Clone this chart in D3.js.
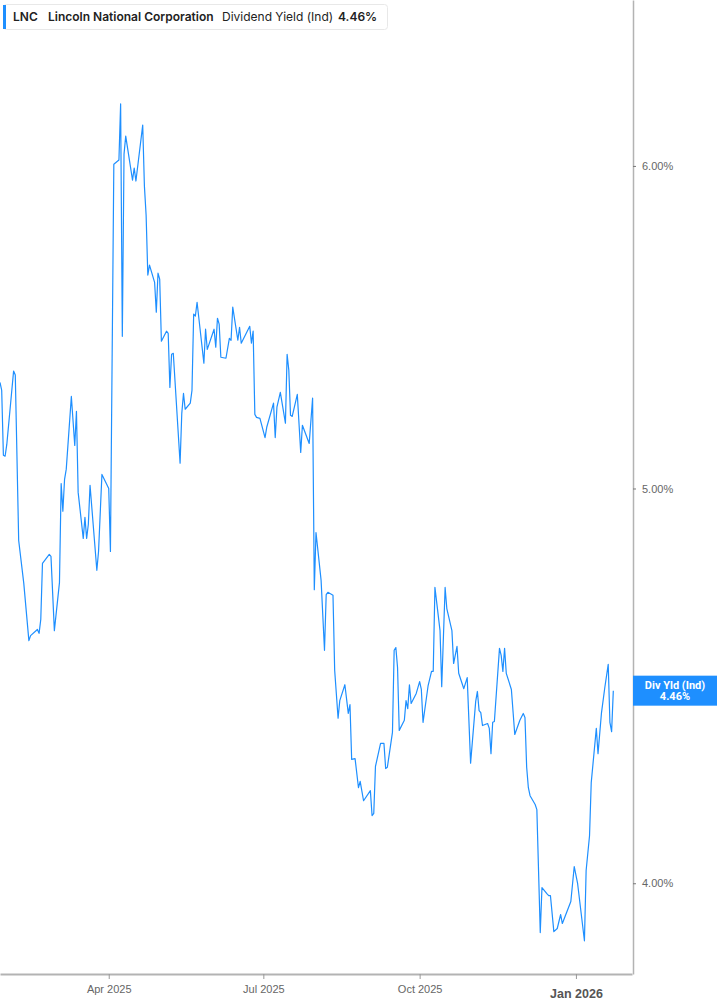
<!DOCTYPE html>
<html>
<head>
<meta charset="utf-8">
<script src="https://cdn.jsdelivr.net/npm/d3@7"></script>
<style>
  body { margin: 0; background: #fff; }
  svg { display: block; font-family: Roboto, "Liberation Sans", sans-serif; }
</style>
</head>
<body>
<svg id="chart" width="717" height="1005"></svg>
<script>
// Lincoln National (LNC) - indicated dividend yield
const dates = [
  '2025-01-27', '2025-01-28', '2025-01-29', '2025-01-30', '2025-01-31',
  '2025-02-04', '2025-02-05', '2025-02-07', '2025-02-10', '2025-02-13', '2025-02-14', '2025-02-18', '2025-02-19', '2025-02-20', '2025-02-21', '2025-02-25', '2025-02-26', '2025-02-28',
  '2025-03-03', '2025-03-04', '2025-03-05', '2025-03-06', '2025-03-07', '2025-03-10', '2025-03-12', '2025-03-13', '2025-03-14', '2025-03-17', '2025-03-18', '2025-03-19', '2025-03-20', '2025-03-21', '2025-03-25', '2025-03-26', '2025-03-28',
  '2025-04-01', '2025-04-02', '2025-04-04', '2025-04-07', '2025-04-08', '2025-04-09', '2025-04-10', '2025-04-11', '2025-04-15', '2025-04-16', '2025-04-17', '2025-04-21', '2025-04-22', '2025-04-23', '2025-04-24', '2025-04-25', '2025-04-28', '2025-04-29', '2025-04-30',
  '2025-05-01', '2025-05-02', '2025-05-05', '2025-05-06', '2025-05-07', '2025-05-08', '2025-05-09', '2025-05-13', '2025-05-14', '2025-05-15', '2025-05-16', '2025-05-19', '2025-05-20', '2025-05-21', '2025-05-22', '2025-05-23', '2025-05-27', '2025-05-28', '2025-05-29',
  '2025-06-02', '2025-06-03', '2025-06-04', '2025-06-05', '2025-06-06', '2025-06-09', '2025-06-11', '2025-06-12', '2025-06-13', '2025-06-16', '2025-06-17', '2025-06-18', '2025-06-23', '2025-06-24', '2025-06-25', '2025-06-26', '2025-06-27', '2025-06-29',
  '2025-07-02', '2025-07-03', '2025-07-07', '2025-07-08', '2025-07-09', '2025-07-11', '2025-07-14', '2025-07-15', '2025-07-16', '2025-07-17', '2025-07-18', '2025-07-21', '2025-07-23', '2025-07-24', '2025-07-28', '2025-07-30', '2025-07-31',
  '2025-08-01', '2025-08-04', '2025-08-06', '2025-08-07', '2025-08-08', '2025-08-11', '2025-08-12', '2025-08-14', '2025-08-15', '2025-08-18', '2025-08-20', '2025-08-21', '2025-08-22', '2025-08-24', '2025-08-26', '2025-08-27', '2025-08-29',
  '2025-09-02', '2025-09-03', '2025-09-04', '2025-09-05', '2025-09-08', '2025-09-10', '2025-09-11', '2025-09-12', '2025-09-15', '2025-09-16', '2025-09-17', '2025-09-18', '2025-09-19', '2025-09-22', '2025-09-23', '2025-09-24', '2025-09-25', '2025-09-26', '2025-09-29',
  '2025-10-01', '2025-10-02', '2025-10-03', '2025-10-06', '2025-10-08', '2025-10-09', '2025-10-10', '2025-10-13', '2025-10-14', '2025-10-16', '2025-10-17', '2025-10-20', '2025-10-21', '2025-10-23', '2025-10-24', '2025-10-27', '2025-10-29', '2025-10-31',
  '2025-11-03', '2025-11-04', '2025-11-05', '2025-11-06', '2025-11-07', '2025-11-10', '2025-11-11', '2025-11-12', '2025-11-13', '2025-11-14', '2025-11-17', '2025-11-18', '2025-11-19', '2025-11-20', '2025-11-21', '2025-11-24', '2025-11-26', '2025-11-29',
  '2025-12-01', '2025-12-02', '2025-12-03', '2025-12-04', '2025-12-05', '2025-12-08', '2025-12-09', '2025-12-11', '2025-12-12', '2025-12-15', '2025-12-16', '2025-12-17', '2025-12-19', '2025-12-21', '2025-12-23', '2025-12-24', '2025-12-29', '2025-12-31',
  '2026-01-02', '2026-01-06', '2026-01-07', '2026-01-09', '2026-01-10', '2026-01-13', '2026-01-14', '2026-01-16', '2026-01-18', '2026-01-20', '2026-01-21', '2026-01-22', '2026-01-23'
]

const yields = [
  5.309, 5.285, 5.095, 5.092, 5.126,
  5.343, 5.331, 4.855, 4.739, 4.588, 4.601, 4.617, 4.607, 4.643, 4.793, 4.817, 4.812, 4.614,
  4.741, 5.014, 4.936, 5.026, 5.055, 5.267, 5.123, 5.223, 4.989, 4.861, 4.919, 4.861, 4.900, 5.009, 4.774, 4.825, 5.040,
  5.000, 4.825, 6.006, 6.020, 6.214, 5.449, 6.040, 6.102, 5.952, 5.993, 5.949, 6.140, 5.932, 5.836, 5.641, 5.673, 5.618, 5.524, 5.647,
  5.628, 5.434, 5.465, 5.458, 5.294, 5.394, 5.397, 5.072, 5.217, 5.276, 5.229, 5.247, 5.285, 5.518, 5.512, 5.555, 5.367, 5.471, 5.409,
  5.471, 5.416, 5.505, 5.487, 5.385, 5.382, 5.443, 5.437, 5.540, 5.437, 5.477, 5.428, 5.480, 5.428, 5.465, 5.214, 5.205, 5.202,
  5.146, 5.176, 5.247, 5.146, 5.235, 5.279, 5.188, 5.394, 5.346, 5.211, 5.208, 5.273, 5.103, 5.182, 5.129, 5.262, 4.722,
  4.877, 4.747, 4.563, 4.709, 4.715, 4.707, 4.511, 4.391, 4.435, 4.475, 4.403, 4.425, 4.290, 4.292, 4.222, 4.237, 4.191,
  4.215, 4.156, 4.161, 4.273, 4.329, 4.329, 4.268, 4.271, 4.356, 4.563, 4.570, 4.519, 4.361, 4.386, 4.435, 4.415, 4.475, 4.428, 4.453,
  4.483, 4.463, 4.381, 4.473, 4.509, 4.509, 4.728, 4.614, 4.470, 4.728, 4.672, 4.614, 4.529, 4.573, 4.504, 4.465, 4.493, 4.281,
  4.433, 4.458, 4.410, 4.405, 4.373, 4.378, 4.366, 4.304, 4.381, 4.383, 4.568, 4.550, 4.509, 4.568, 4.504, 4.463, 4.351, 4.386,
  4.403, 4.393, 4.271, 4.222, 4.203, 4.182, 4.170, 3.890, 3.990, 3.976, 3.972, 3.972, 3.892, 3.899, 3.930, 3.910, 3.959, 4.038,
  3.999, 3.872, 4.029, 4.109, 4.234, 4.366, 4.304, 4.403, 4.468, 4.527, 4.381, 4.358, 4.46
]

const yTicks = [4, 5, 6]
const xTicks = ['2025-04-01', '2025-07-01', '2025-10-01', '2026-01-01']
const headerItems = [
  { text: 'LNC', bold: true },
  { text: 'Lincoln National Corporation', bold: true },
  { text: 'Dividend Yield (Ind)', bold: false },
  { text: '4.46%', bold: true }
]
const tagLines = ['Div Yld (Ind)', '4.46%']

const blue = '#1e8fff'
const plotW = 633
const plotH = 974

const parse = d3.utcParse('%Y-%m-%d')
const svg = d3.select('#chart')

const x = d3.scaleUtc()
  .domain([parse('2025-01-27'), parse('2026-02-03')])
  .range([0, 632])

const y = d3.scaleLog()
  .domain([3.80, 6.59])
  .range([plotH, 0])

svg.append('defs')
  .append('clipPath')
  .attr('id', 'plotClip')
  .append('rect')
  .attr('width', plotW)
  .attr('height', plotH)

// Series line
const points = dates.map((d, i) => ({ date: parse(d), value: yields[i] }))

svg.append('path')
  .datum(points)
  .attr('clip-path', 'url(#plotClip)')
  .attr('fill', 'none')
  .attr('stroke', blue)
  .attr('stroke-width', 1.2)
  .attr('stroke-linejoin', 'round')
  .attr('d', d3.line().x((d) => x(d.date)).y((d) => y(d.value)))

// Right axis
const yAxis = svg.append('g')
  .attr('transform', `translate(${plotW},0)`)
  .call(d3.axisRight(y)
    .tickValues(yTicks)
    .tickSize(3)
    .tickSizeOuter(0)
    .tickPadding(6)
    .tickFormat((d) => d3.format('.2f')(d) + '%'))

yAxis.select('.domain').attr('stroke', '#b3b3b3').attr('stroke-width', 1.5)
yAxis.selectAll('.tick line').attr('stroke', '#777')
yAxis.selectAll('.tick text')
  .attr('fill', '#666')
  .style('font-size', '11px')

// Bottom axis
const xAxis = svg.append('g')
  .attr('transform', `translate(0,${plotH})`)
  .call(d3.axisBottom(x)
    .tickValues(xTicks.map(parse))
    .tickSize(5)
    .tickSizeOuter(0)
    .tickPadding(6)
    .tickFormat(d3.utcFormat('%b %Y')))

xAxis.select('.domain').attr('stroke', '#b3b3b3').attr('stroke-width', 2)
xAxis.selectAll('.tick line').attr('stroke', '#999')
xAxis.selectAll('.tick text')
  .attr('fill', '#666')
  .style('font-size', '11px')
  .filter((d) => d.getUTCMonth() === 0)
  .attr('fill', '#555')
  .attr('dy', '1em')
  .style('font-size', '12.5px')
  .style('font-weight', 'bold')

// Header box
const header = svg.append('g').style('font-family', 'Inter, Roboto, sans-serif')
header.append('rect')
  .attr('x', 3.5)
  .attr('y', 4.5)
  .attr('width', 384)
  .attr('height', 25)
  .attr('rx', 3)
  .attr('fill', '#fff')
  .attr('stroke', '#e8e8e8')
header.append('rect')
  .attr('x', 3)
  .attr('y', 5)
  .attr('width', 3)
  .attr('height', 24)
  .attr('fill', blue)

// start of each header item, as laid out in the source
const headerX = [13, 48, 222, 338]
header.selectAll('text.item')
  .data(headerItems)
  .enter()
  .append('text')
  .attr('class', 'item')
  .attr('x', (d, i) => headerX[i])
  .attr('y', 20.5)
  .attr('fill', '#222')
  .style('font-size', '12px')
  .style('font-weight', (d) => (d.bold ? 600 : 400))
  .text((d) => d.text)

// Last value tag on the right axis
const last = yields[yields.length - 1]
const tag = svg.append('g').attr('transform', `translate(${plotW},${y(last) - 15})`)
tag.append('rect')
  .attr('width', 717 - plotW)
  .attr('height', 30)
  .attr('fill', blue)
tag.selectAll('text')
  .data(tagLines)
  .enter()
  .append('text')
  .attr('x', (717 - plotW) / 2)
  .attr('y', (d, i) => 13 + i * 11)
  .attr('text-anchor', 'middle')
  .attr('fill', '#fff')
  .style('font-size', '11px')
  .style('font-weight', 'bold')
  .text((d) => d)
</script>
</body>
</html>
